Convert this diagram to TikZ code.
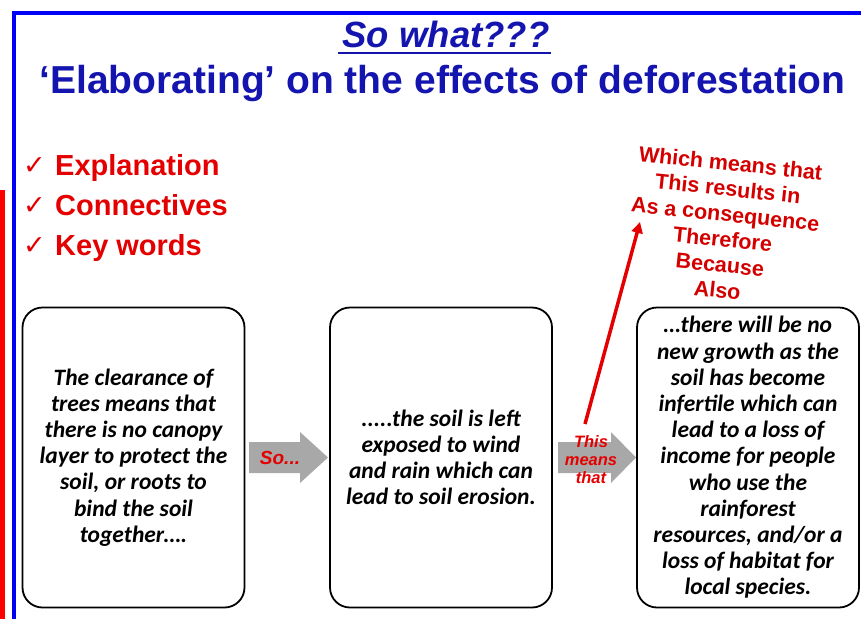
\documentclass[tikz,border=0pt]{standalone}
\usepackage{fontspec}
\setmainfont{Liberation Sans}
\newfontfamily\calib{Carlito}
\newfontfamily\dejavu{DejaVu Sans}
\usetikzlibrary{arrows.meta}
\definecolor{frameblue}{RGB}{0,0,245}
\definecolor{titleblue}{RGB}{20,20,175}
\definecolor{redtxt}{RGB}{228,0,0}
\definecolor{wordred}{RGB}{212,0,0}
\definecolor{arrowgray}{RGB}{168,168,168}
\begin{document}
\begin{tikzpicture}[x=1pt,y=-1pt,
  box/.style={draw=black, line width=1.8pt, rounded corners=20pt,
    minimum width=222pt, minimum height=300pt, align=center,
    inner sep=2pt, font=\calib\bfseries\itshape\fontsize{23.5}{26.2}\selectfont},
  checkitem/.style={anchor=base west, text=redtxt, inner sep=0pt,
    font=\bfseries\fontsize{29}{32}\selectfont},
  checkmark/.style={anchor=base west, text=redtxt, inner sep=0pt,
    font=\dejavu\bfseries\fontsize{27}{30}\selectfont},
  grayarrow/.style={fill=arrowgray, draw=none},
  words/.style={align=center, rotate=-6, inner sep=0pt,
    font=\bfseries\fontsize{21.5}{25.5}\selectfont}
]
\useasboundingbox (0,0) rectangle (861,619);
% frame
\fill[red] (0,190) rectangle (5,619);
\fill[frameblue] (12,11) rectangle (861,15);
\fill[frameblue] (12,11) rectangle (16,619);
% titles
\node[anchor=base, text=titleblue, inner sep=0pt,
  font=\bfseries\itshape\fontsize{36.5}{40}\selectfont] (t1) at (446,47) {So what???};
\draw[titleblue, line width=2pt] (338,52.5) -- (551,52.5);
\node[anchor=base, text=titleblue, inner sep=0pt,
  font=\bfseries\fontsize{39}{44}\selectfont] (t2) at (442.5,93) {‘Elaborating’ on the effects of deforestation};
% check list
\node[checkmark] (c1) at (23,174) {✓};
\node[checkmark] (c2) at (23,214) {✓};
\node[checkmark] (c3) at (23,254) {✓};
\node[checkitem] (l1) at (55,175) {Explanation};
\node[checkitem] (l2) at (55,215) {Connectives};
\node[checkitem] (l3) at (55,255) {Key words};
% boxes
\node[box] (b1) at (133.5,457.5) {The clearance of\\trees means that\\there is no canopy\\layer to protect the\\soil, or roots to\\bind the soil\\together….};
\node[box] (b2) at (441,457.5) {.....the soil is left\\exposed to wind\\and rain which can\\lead to soil erosion.};
\node[box] (b3) at (748,457.5) {…there will be no\\new growth as the\\soil has become\\infertile which can\\lead to a loss of\\income for people\\who use the\\rainforest\\resources, and/or a\\loss of habitat for\\local species.};
% red words
\node[words, text=wordred] (w) at (724,226.5) {Which means that\\This results in\\As a consequence\\Therefore\\Because\\Also};
% red arrow
\coordinate (rs) at (585,424);
\coordinate (re) at (640,222);
\draw[redtxt, line width=3.5pt, -{Triangle[length=11pt,width=11pt]}] (rs) -- (re);
% gray block arrows
\fill[grayarrow] (249,442) -- (300,442) -- (300,432) -- (328,457.5) -- (300,483) -- (300,473) -- (249,473) -- cycle;
\fill[grayarrow] (558,442) -- (611,442) -- (611,432) -- (636,457.5) -- (611,483) -- (611,473) -- (558,473) -- cycle;
\node[text=redtxt, inner sep=0pt, font=\bfseries\itshape\fontsize{19}{22}\selectfont] (so) at (280,458) {So...};
\node[text=redtxt, inner sep=0pt, align=center,
  font=\bfseries\itshape\fontsize{16.5}{18}\selectfont] (tmt) at (591,460) {This\\means\\that};
\end{tikzpicture}
\end{document}
